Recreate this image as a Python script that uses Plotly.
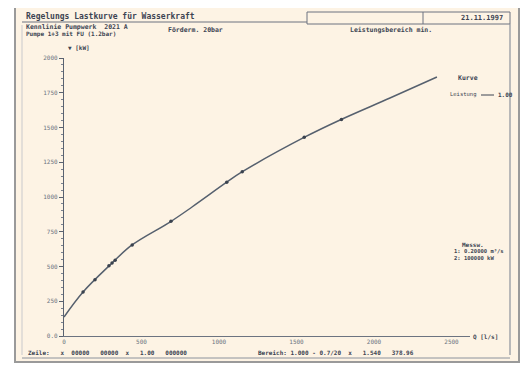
import plotly.graph_objects as go

# ---- data ----
curve_x = [0, 123, 297, 439, 684, 826, 1052, 1148, 1555, 1781, 2103, 2406]
curve_y = [137, 317, 511, 655, 820, 928, 1108, 1180, 1432, 1554, 1712, 1863]
meas_x = [123, 200, 290, 310, 330, 440, 690, 1050, 1150, 1550, 1790]
meas_y = [317, 405, 505, 525, 545, 655, 825, 1106, 1182, 1430, 1558]
x_ticks = [0, 500, 1000, 1500, 2000, 2500]
x_tick_labels = ["0", "500", "1000", "1500", "2000", "2500"]
y_ticks = [0, 250, 500, 750, 1000, 1250, 1500, 1750, 2000]
y_tick_labels = ["0.0", "250", "500", "750", "1000", "1250", "1500", "1750", "2000"]
y_minor = list(range(0, 2001, 50))

OFF = 8  # page body margin
W, H = 530, 365
L, R, T, B = 64, 470, 58, 336
INK = "#3c4452"
CREAM = "#fdf3e4"
FONT = "DejaVu Sans Mono"


def px(x):
    return (x - L) / (R - L)


def py(y):
    return (B - y) / (B - T)


fig = go.Figure()
fig.add_trace(go.Scatter(x=curve_x, y=curve_y, mode="lines", line=dict(color="#56606e", width=1.5, shape="spline"),
                         showlegend=False, hoverinfo="skip"))
fig.add_trace(go.Scatter(x=meas_x, y=meas_y, mode="markers", marker=dict(color="#3a424e", size=3.5),
                         showlegend=False))

shapes = []
shapes.append(dict(type="rect", xref="paper", yref="paper", x0=px(15), x1=px(519), y0=py(362), y1=py(5),
                   fillcolor=CREAM, line=dict(color="#9a9a9a", width=2), layer="below"))
shapes.append(dict(type="line", xref="paper", yref="paper", x0=px(22), x1=px(22), y0=py(355), y1=py(25),
                   line=dict(color="#c9c9cc", width=1), layer="below"))
shapes.append(dict(type="rect", xref="paper", yref="paper", x0=px(307), x1=px(510), y0=py(24), y1=py(12),
                   line=dict(color="#6c7380", width=1), layer="below"))
shapes.append(dict(type="line", xref="paper", yref="paper", x0=px(423), x1=px(423), y0=py(24), y1=py(12),
                   line=dict(color="#6c7380", width=1)))
shapes.append(dict(type="line", xref="paper", yref="paper", x0=px(22), x1=px(307), y0=py(22), y1=py(22),
                   line=dict(color="#6c7380", width=1)))
shapes.append(dict(type="line", xref="paper", yref="paper", x0=px(510), x1=px(510), y0=py(355), y1=py(24),
                   line=dict(color="#8c929c", width=1.2)))
shapes.append(dict(type="line", xref="paper", yref="paper", x0=px(22), x1=px(510), y0=py(358), y1=py(358),
                   line=dict(color="#8c929c", width=1)))
shapes.append(dict(type="line", xref="paper", yref="paper", x0=px(481), x1=px(494), y0=py(95), y1=py(95),
                   line=dict(color=INK, width=1)))

ann = []


def text(x, y, s, size=7, color=INK, anchor="left"):
    ann.append(dict(x=px(x), y=py(y), xref="paper", yref="paper", text=s, showarrow=False,
                    xanchor=anchor, yanchor="middle", font=dict(family=FONT, size=size, color=color)))


text(24, 16, "<b>Regelungs Lastkurve für Wasserkraft</b>", 8)
text(505, 18, "<b>21.11.1997</b>", 7, anchor="right")
text(24, 27, "<b>Kennlinie Pumpwerk  2021 A</b>", 6.5)
text(24, 34, "<b>Pumpe 1÷3 mit FU (1.2bar)</b>", 6)
text(166, 30, "<b>Förderm. 20bar</b>", 6.5)
text(348, 30, "<b>Leistungsbereich min.</b>", 6.5)
text(66, 47, "<b>▼ [kW]</b>", 6)
text(456, 78, "<b>Kurve</b>", 6.5)
text(448, 95, "Leistung", 5.5)
text(496, 95, "<b>1.00</b>", 6)
text(460, 244, "<b>Messw.</b>", 6)
text(452, 251, "<b>1: 0.20000 m³/s</b>", 5.5)
text(452, 258, "<b>2: 100000 kW</b>", 5.5)
text(500, 336, "<b>Q [l/s]</b>", 6, anchor="right")
text(26, 352, "<b>Zeile:   x  00000   00000  x   1.00   000000</b>", 6)
text(256, 352, "<b>Bereich: 1.000 - 0.7/20  x   1.540   378.96</b>", 6)

fig.update_layout(
    width=W, height=H,
    margin=dict(l=L - OFF, r=W - (R - OFF), t=T - OFF, b=H - (B - OFF)),
    paper_bgcolor="white", plot_bgcolor=CREAM,
    shapes=shapes, annotations=ann,
    xaxis=dict(range=[0, (R - L) / 0.155], tickvals=x_ticks, ticktext=x_tick_labels, showgrid=False,
               zeroline=False, showline=True, linecolor="#6c7380", linewidth=1, ticks="",
               tickfont=dict(family=FONT, size=6, color="#6c7380")),
    yaxis=dict(range=[0, 2000], tickvals=y_ticks, ticktext=y_tick_labels, showgrid=False, zeroline=False,
               showline=True, linecolor="#5a6270", linewidth=1.2, ticks="outside", ticklen=4,
               tickcolor="#5a6270",
               minor=dict(ticks="outside", ticklen=2, tickvals=y_minor, tickcolor="#7a8290", showgrid=False),
               tickfont=dict(family=FONT, size=6, color="#6c7380")),
)

fig.write_html("out.html")
